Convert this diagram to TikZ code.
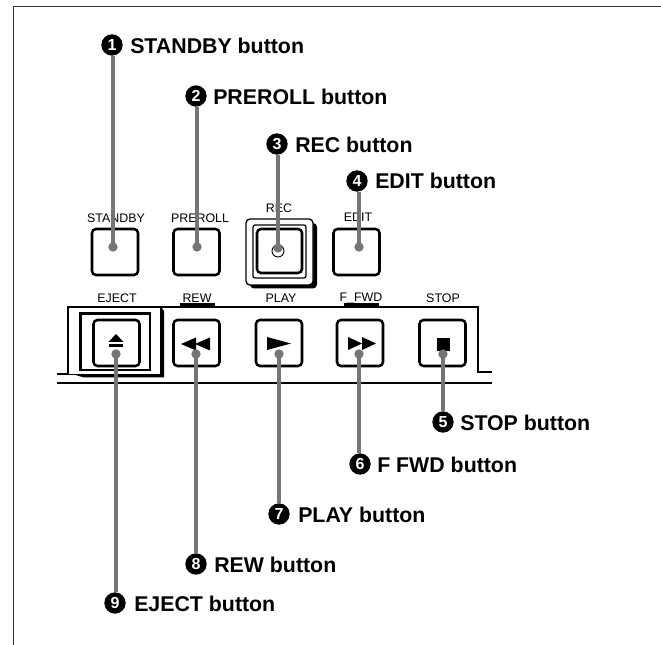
\documentclass[tikz,border=0pt]{standalone}
\usepackage{fontspec}
\setmainfont{Liberation Sans}
\definecolor{leadgray}{HTML}{757575}
\tikzset{
  x=0.75pt,y=-0.75pt,
  panelname/.style={font=\fontsize{9.3}{10}\selectfont,inner sep=0pt,text=black},
  calloutnum/.style={circle,fill=black,text=white,minimum size=16pt,inner sep=0pt,font=\bfseries\fontsize{12}{12}\selectfont},
  callouttext/.style={font=\bfseries\fontsize{16}{18}\selectfont,inner sep=0pt,anchor=west},
  keycap/.style={draw=black,line width=1.9pt,rounded corners=3pt,fill=white},
  thinline/.style={draw=black,line width=0.9pt},
  leaderline/.style={draw=leadgray,line width=2.3pt},
  leaderdot/.style={circle,fill=leadgray,minimum size=7pt,inner sep=0pt},
  glyph/.style={fill=black,draw=none},
  underbar/.style={draw=black,line width=2.1pt}
}
\newcommand{\keybox}[5]{\node[keycap,minimum width=#4*0.75pt,minimum height=#5*0.75pt,inner sep=0pt] (#1) at (#2,#3) {};}
\begin{document}
\begin{tikzpicture}
\useasboundingbox (0,0) rectangle (661,645);
% frame
\draw[draw=black!80,line width=1.1pt] (13.5,645) -- (13.5,6.5) -- (661,6.5);
% panel lines
\draw[thinline] (161,307) -- (478,307) -- (478,372) -- (492,372);
\draw[thinline] (57,383) -- (492,383);
\draw[thinline] (57,374) -- (72,374);
% REC housing
\fill[black,rounded corners=3pt] (250,223) rectangle (317,288.5);
\draw[draw=black,line width=1pt,fill=white,rounded corners=3pt] (246,219) rectangle (313,285);
\draw[draw=black,line width=0.9pt,rounded corners=1.5pt] (253,225) rectangle (306,278);
\node[keycap,minimum width=45*0.75pt,minimum height=44*0.75pt,inner sep=0pt] (rec) at (279.5,251) {};
\node[draw=black,line width=0.7pt,circle,minimum size=9pt,inner sep=0pt] (reclamp) at (278,251) {};
% EJECT housing
\fill[black] (72,311) -- (164,311) -- (164,377.5) -- (84,377.5) -- (72,374) -- cycle;
\fill[black] (161,307) -- (164,311) -- (161,311) -- cycle;
\draw[draw=black,line width=1pt,fill=white] (68,307) -- (161,307) -- (161,374.5) -- (68,374.5) -- cycle;
\draw[draw=black,line width=2.2pt] (80.5,313.5) rectangle (150,370);
% keys
\keybox{standby}{115}{252}{46}{46}
\keybox{preroll}{196.5}{252}{46}{46}
\keybox{edit}{356.5}{252}{46}{46}
\keybox{eject}{116.5}{343}{46}{46}
\keybox{rew}{196.5}{343}{46}{46}
\keybox{play}{279}{343}{46}{46}
\keybox{ffwd}{360}{343}{46}{46}
\keybox{stop}{442.5}{343}{46}{46}
% panel names
\node[panelname] (nstandby) at (116,218) {STANDBY};
\node[panelname] (npreroll) at (200,218) {PREROLL};
\node[panelname] (nrec) at (279,208) {REC};
\node[panelname] (nedit) at (358,217) {EDIT};
\node[panelname] (neject) at (117,298) {EJECT};
\node[panelname] (nrew) at (197,298) {REW};
\node[panelname] (nplay) at (281,298) {PLAY};
\node[panelname] (nffwd) at (361,298) {F\_FWD};
\node[panelname] (nstop) at (443,298) {STOP};
\draw[underbar] (180,304.5) -- (215,304.5);
\draw[underbar] (344,304.5) -- (379,304.5);
% glyphs
\fill[glyph] (116,334) -- (123.5,342) -- (108.5,342) -- cycle;
\fill[glyph] (109,344) rectangle (123,347);
\fill[glyph] (181,344) -- (196,337.5) -- (196,350.5) -- cycle;
\fill[glyph] (195,344) -- (210,337.5) -- (210,350.5) -- cycle;
\fill[glyph] (267,337) -- (291,343.5) -- (267,350) -- cycle;
\fill[glyph] (348,337) -- (362,343.5) -- (348,350) -- cycle;
\fill[glyph] (362,337) -- (376,343.5) -- (362,350) -- cycle;
\fill[glyph] (437,338) rectangle (450,351);
% callouts
\node[calloutnum] (c1) at (112,45) {1};
\node[callouttext] (t1) at (130,46) {STANDBY button};
\node[calloutnum] (c2) at (196,96) {2};
\node[callouttext] (t2) at (213,97) {PREROLL button};
\node[calloutnum] (c3) at (277,144) {3};
\node[callouttext] (t3) at (295,145) {REC button};
\node[calloutnum] (c4) at (357,181) {4};
\node[callouttext] (t4) at (375,181) {EDIT button};
\node[calloutnum] (c5) at (443,422) {5};
\node[callouttext] (t5) at (460,423) {STOP button};
\node[calloutnum] (c6) at (360,464) {6};
\node[callouttext] (t6) at (377,465) {F FWD button};
\node[calloutnum] (c7) at (279,514) {7};
\node[callouttext] (t7) at (298,515) {PLAY button};
\node[calloutnum] (c8) at (196,564) {8};
\node[callouttext] (t8) at (214,565) {REW button};
\node[calloutnum] (c9) at (115,603) {9};
\node[callouttext] (t9) at (134,604) {EJECT button};
% leaders
\node[leaderdot] (d1) at (113,247) {};
\node[leaderdot] (d2) at (197,247) {};
\node[leaderdot] (d3) at (278,248) {};
\node[leaderdot] (d4) at (359,247) {};
\node[leaderdot] (d5) at (443,354) {};
\node[leaderdot] (d6) at (359,354) {};
\node[leaderdot] (d7) at (279,354) {};
\node[leaderdot] (d8) at (196,354) {};
\node[leaderdot] (d9) at (116,354) {};
\draw[leaderline] (c1.south -| d1) -- (d1.center);
\draw[leaderline] (c2.south -| d2) -- (d2.center);
\draw[leaderline] (c3.south -| d3) -- (d3.center);
\draw[leaderline] (c4.south -| d4) -- (d4.center);
\draw[leaderline] (c5.north -| d5) -- (d5.center);
\draw[leaderline] (c6.north -| d6) -- (d6.center);
\draw[leaderline] (c7.north -| d7) -- (d7.center);
\draw[leaderline] (c8.north -| d8) -- (d8.center);
\draw[leaderline] (c9.north -| d9) -- (d9.center);
\end{tikzpicture}
\end{document}
